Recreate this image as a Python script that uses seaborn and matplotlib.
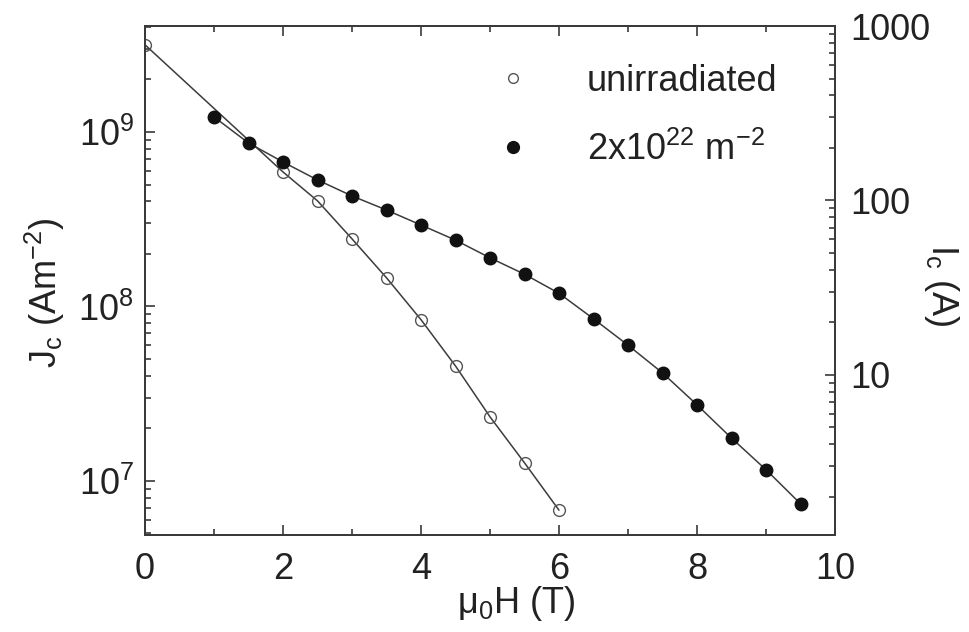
import matplotlib
matplotlib.use("Agg")
import matplotlib.pyplot as plt
import numpy as np
import pandas as pd
import seaborn as sns
from matplotlib.lines import Line2D
from matplotlib.ticker import (FuncFormatter, LogLocator, MultipleLocator,
                               NullFormatter, FixedLocator)

# Applied field (T) and critical current density (A/m^2)
field_unirr = [0.0, 2.0, 2.5, 3.0, 3.5, 4.0, 4.5, 5.0, 5.5, 6.0]
jc_unirr = [3.16e9, 5.9e8, 4.03e8, 2.44e8, 1.46e8, 8.4e7, 4.56e7, 2.33e7,
            1.27e7, 6.8e6]

field_irr = [1.0, 1.5, 2.0, 2.5, 3.0, 3.5, 4.0, 4.5, 5.0, 5.5, 6.0, 6.5,
             7.0, 7.5, 8.0, 8.5, 9.0, 9.5]
jc_irr = [1.22e9, 8.65e8, 6.73e8, 5.31e8, 4.30e8, 3.57e8, 2.93e8, 2.40e8,
          1.90e8, 1.53e8, 1.19e8, 8.5e7, 6.0e7, 4.16e7, 2.73e7, 1.76e7,
          1.16e7, 7.4e6]

series_labels = ["unirradiated", "2x10$^{22}$ m$^{-2}$"]
x_label = "\u03bc$_0$H (T)"
y_label_left = "J$_c$ (Am$^{-2}$)"
y_label_right = "I$_c$ (A)"

# Axis ranges; the right axis is the left one rescaled so that its top is 1000 A
jc_limits = (4.9e6, 4.05e9)
ic_top = 1000.0
jc_to_ic = ic_top / jc_limits[1]

df_unirr = pd.DataFrame({"field": field_unirr, "jc": jc_unirr})
df_irr = pd.DataFrame({"field": field_irr, "jc": jc_irr})

sns.set_theme(style="ticks")
plt.rcParams["font.family"] = ["Liberation Sans", "DejaVu Sans"]
plt.rcParams["mathtext.default"] = "regular"

ink = "#222222"
spine_col = "#3a3a3a"
line_col = "#3c3c3c"

fig = plt.figure(figsize=(9.69, 6.32), dpi=100)
ax = fig.add_axes([145 / 969, 1 - 535 / 632, 690 / 969, 509 / 632])
ax.set_yscale("log")

sns.lineplot(data=df_unirr, x="field", y="jc", ax=ax, color=line_col,
             lw=1.1, marker="o", markersize=8.5, mfc="none", mec="#555555",
             mew=1.0, legend=False, zorder=3)
sns.lineplot(data=df_irr, x="field", y="jc", ax=ax, color=line_col,
             lw=1.1, marker="o", markersize=9.0, mfc="#111111", mec="#111111",
             mew=1.0, legend=False, zorder=4)

ax.set_xlim(0, 10)
ax.set_ylim(*jc_limits)

ax.xaxis.set_major_locator(MultipleLocator(2))
ax.xaxis.set_minor_locator(MultipleLocator(1))
ax.yaxis.set_major_locator(LogLocator(base=10))
ax.yaxis.set_minor_locator(LogLocator(base=10, subs=np.arange(2, 10)))
ax.yaxis.set_major_formatter(
    FuncFormatter(lambda v, p: r"$10^{%d}$" % int(round(np.log10(v)))))
ax.yaxis.set_minor_formatter(NullFormatter())

ax.tick_params(which="both", direction="in", top=True, right=False,
               colors=spine_col, labelcolor=ink, width=1.2)
ax.tick_params(which="major", length=7.5, labelsize=26)
ax.tick_params(which="minor", length=4.5)
ax.tick_params(axis="x", which="major", pad=12)
ax.tick_params(axis="y", which="major", pad=8)

for s in ax.spines.values():
    s.set_color(spine_col)
    s.set_linewidth(1.4)

ax.set_xlabel(x_label, fontsize=26, color=ink, va="center", ha="center")
ax.xaxis.set_label_coords(0.538, -0.134)
ax.set_ylabel(y_label_left, fontsize=26, color=ink, va="center", ha="center",
              rotation=90, rotation_mode="anchor")
ax.yaxis.set_label_coords(-0.145, 0.475)

# Right axis: critical current
ax2 = ax.twinx()
ax2.set_yscale("log")
ax2.set_ylim(jc_limits[0] * jc_to_ic, jc_limits[1] * jc_to_ic)
ax2.yaxis.set_major_locator(FixedLocator([10, 100, 1000]))
ax2.yaxis.set_minor_locator(LogLocator(base=10, subs=np.arange(2, 10)))
ax2.yaxis.set_major_formatter(FuncFormatter(lambda v, p: "%d" % round(v)))
ax2.yaxis.set_minor_formatter(NullFormatter())
ax2.tick_params(which="both", direction="in", colors=spine_col,
                labelcolor=ink, width=1.2)
ax2.tick_params(which="major", length=7.5, labelsize=26, pad=11)
ax2.tick_params(which="minor", length=4.5)
for s in ax2.spines.values():
    s.set_color(spine_col)
    s.set_linewidth(1.4)
ax2.set_ylabel(y_label_right, fontsize=26, color=ink, va="center",
               ha="center", rotation=270, rotation_mode="anchor")
ax2.yaxis.set_label_coords(1.155, 0.491)

handles = [
    Line2D([], [], ls="none", marker="o", ms=7, mfc="none", mec="#555555",
           mew=1.0),
    Line2D([], [], ls="none", marker="o", ms=8.5, mfc="#111111",
           mec="#111111"),
]
ax.legend(handles, series_labels, loc="upper left",
          bbox_to_anchor=(0.507, 0.926), frameon=False, fontsize=26,
          handlelength=1.0, handletextpad=1.55, labelspacing=0.92,
          borderpad=0, borderaxespad=0, labelcolor=ink)

fig.savefig("out.png", dpi=100)
